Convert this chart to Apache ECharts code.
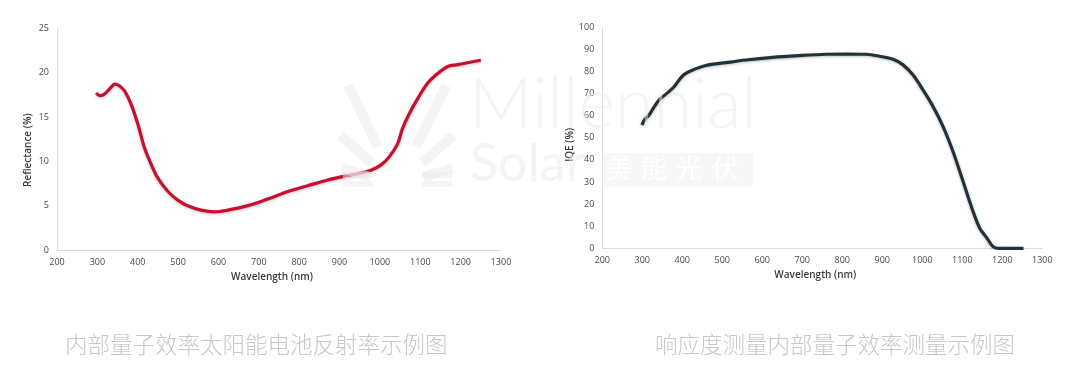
<!DOCTYPE html>
<html><head><meta charset="utf-8">
<script src="https://cdn.jsdelivr.net/npm/echarts@6/dist/echarts.min.js"></script>
<style>html,body{margin:0;padding:0;background:#fff}#c{width:1080px;height:390px}</style>
</head><body><div id="c"></div>
<script>
// ---- data ----
const reflWavelength = [297,306,318,335,343,355,368,384,401,417,434,450,475,500,524,557,590,623,673,722,772,821,871,920,953,978,1003,1023,1044,1056,1073,1094,1118,1143,1168,1193,1226,1250];
const reflValues = [17.7,17.4,17.6,18.4,18.7,18.5,17.9,16.4,14.1,11.5,9.6,8.1,6.6,5.6,5.0,4.5,4.3,4.5,5.0,5.75,6.6,7.25,7.9,8.4,8.7,9.0,9.6,10.5,12.0,13.7,15.4,17.1,18.8,19.9,20.7,20.9,21.2,21.4];
const iqeWavelength = [299,307,317,330,342,359,380,392,405,426,459,509,559,626,693,760,810,860,893,927,952,977,1002,1027,1052,1077,1102,1127,1144,1161,1177,1190,1253];
const iqeValues = [55.8,58.5,60.3,64.1,67.1,69.7,73.2,76.2,78.7,80.7,82.7,84.0,85.2,86.4,87.2,87.8,87.9,87.8,86.9,85.5,83.0,78.4,71.6,64.1,55.1,43.7,30.2,16.6,9.0,4.8,0.75,0,0];
const xTicks = [200,300,400,500,600,700,800,900,1000,1100,1200,1300];
const reflTicks = [0,5,10,15,20,25];
const iqeTicks = [0,10,20,30,40,50,60,70,80,90,100];
const xName = 'Wavelength (nm)';
const reflName = 'Reflectance (%)';
const iqeName = 'IQE (%)';
const captionLeft = '内部量子效率太阳能电池反射率示例图';
const captionRight = '响应度测量内部量子效率测量示例图';

const pairs = (xs, ys) => xs.map((x, i) => [x, ys[i]]);
const axisColor = '#d6dde6';
const labelStyle = { fontFamily: 'Open Sans', fontSize: 9, color: '#4a4a4a' };
const nameStyle = { fontFamily: 'Open Sans', fontSize: 10, fontWeight: 600, color: '#3a3a3a' };
const plain = v => String(v);

function xAxis(gi) {
  return {
    type: 'value', gridIndex: gi,
    min: xTicks[0], max: xTicks[xTicks.length - 1], interval: xTicks[1] - xTicks[0],
    axisLine: { show: true, lineStyle: { color: axisColor, width: 1 } },
    axisTick: { show: false }, splitLine: { show: false },
    axisLabel: Object.assign({ margin: 8, formatter: plain }, labelStyle),
    name: xName, nameLocation: 'middle', nameGap: 17,
    nameTextStyle: Object.assign({ padding: [0, 14, 0, 0] }, nameStyle)
  };
}
function yAxis(gi, ticks, name, pad) {
  return {
    type: 'value', gridIndex: gi,
    min: ticks[0], max: ticks[ticks.length - 1], interval: ticks[1] - ticks[0],
    axisLine: { show: true, lineStyle: { color: axisColor, width: 1 } },
    axisTick: { show: false }, splitLine: { show: false },
    axisLabel: Object.assign({ margin: 8, formatter: plain }, labelStyle),
    name: name, nameLocation: 'middle', nameGap: 24, nameRotate: 90,
    nameTextStyle: Object.assign({ padding: pad }, nameStyle)
  };
}
function lineSeries(gi, data, color) {
  return {
    type: 'line', xAxisIndex: gi, yAxisIndex: gi, data: data,
    smooth: 0.35, showSymbol: false, symbol: 'none',
    lineStyle: { color: color, width: 3.2, shadowBlur: 3, shadowColor: 'rgba(0,0,0,0.25)', shadowOffsetY: 1 },
    z: 2
  };
}

// watermark logo (fan of rays)
const wmColor = 'rgba(234,234,234,0.5)';
const rays = [];
const cx = 397, cy = 186;
[[18, 28, 58], [42, 34, 76], [64, 44, 112]].forEach(([a, r0, r1]) => {
  [a, 180 - a].forEach(ang => {
    rays.push({
      type: 'rect', x: cx, y: cy, rotation: ang * Math.PI / 180,
      shape: { x: r0, y: -5, width: r1 - r0, height: 10 },
      style: { fill: wmColor }, silent: true, z: 10
    });
  });
});
[[343, 172], [343, 181], [422, 172], [422, 181]].forEach(([bx, by]) => {
  rays.push({ type: 'rect', shape: { x: bx, y: by, width: 30, height: 6 }, style: { fill: wmColor }, silent: true, z: 10 });
});

const chart = echarts.init(document.getElementById('c'), null, { renderer: 'canvas' });
chart.setOption({
  backgroundColor: '#ffffff',
  animation: false,
  grid: [
    { left: 57, top: 28.3, width: 444, height: 221.7, containLabel: false },
    { left: 602.3, top: 27.3, width: 440, height: 221, containLabel: false }
  ],
  xAxis: [xAxis(0), xAxis(1)],
  yAxis: [yAxis(0, reflTicks, reflName, [0, 22, 0, 0]), yAxis(1, iqeTicks, iqeName, [0, 14, 0, 0])],
  series: [
    lineSeries(0, pairs(reflWavelength, reflValues), '#c8102e'),
    lineSeries(1, pairs(iqeWavelength, iqeValues), '#22323b')
  ],
  graphic: [
    { type: 'text', left: 65, top: 333, style: { text: captionLeft, fontFamily: 'Noto Sans CJK SC', fontSize: 22.5, fontWeight: 300, fill: '#c8c8c8' }, silent: true },
    { type: 'text', left: 655, top: 333, style: { text: captionRight, fontFamily: 'Noto Sans CJK SC', fontSize: 22.5, fontWeight: 300, fill: '#c8c8c8' }, silent: true },
    ...rays,
    { type: 'text', x: 469, y: 70, style: { text: 'Millennial', fontFamily: 'Lato', fontSize: 70, fontWeight: 300, fill: wmColor }, silent: true, z: 10 },
    { type: 'text', x: 470, y: 138, style: { text: 'Solar', fontFamily: 'Lato', fontSize: 52, fontWeight: 400, fill: wmColor }, silent: true, z: 10 },
    { type: 'rect', shape: { x: 602, y: 153, width: 151, height: 34 }, style: { fill: 'rgba(236,236,236,0.4)' }, silent: true, z: 10 },
    { type: 'text', x: 606, y: 155, style: { text: '美', fontFamily: 'Noto Sans CJK SC', fontSize: 26, fill: 'rgba(255,255,255,0.9)' }, silent: true, z: 11 },
    { type: 'text', x: 641, y: 155, style: { text: '能', fontFamily: 'Noto Sans CJK SC', fontSize: 26, fill: 'rgba(255,255,255,0.9)' }, silent: true, z: 11 },
    { type: 'text', x: 676, y: 155, style: { text: '光', fontFamily: 'Noto Sans CJK SC', fontSize: 26, fill: 'rgba(255,255,255,0.9)' }, silent: true, z: 11 },
    { type: 'text', x: 712, y: 155, style: { text: '伏', fontFamily: 'Noto Sans CJK SC', fontSize: 26, fill: 'rgba(255,255,255,0.9)' }, silent: true, z: 11 }
  ]
});
</script></body></html>
